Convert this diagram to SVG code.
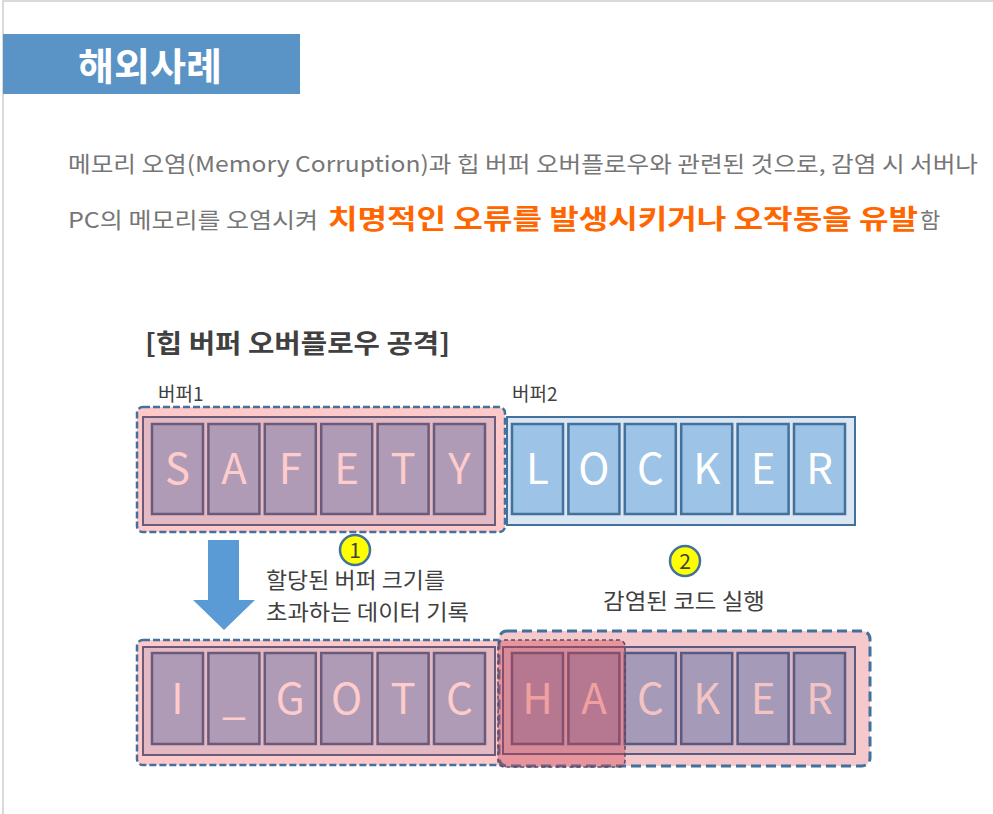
<svg xmlns="http://www.w3.org/2000/svg" width="993" height="814" viewBox="0 0 993 814">
<style>
  text { font-family: "Noto Sans CJK KR", "Noto Sans", sans-serif; }
  .para { font-size: 22px; fill: #767676; }
  .hl { font-size: 27px; font-weight: bold; fill: #ff6600; }
  .lbl { font-size: 21.5px; fill: #404040; }
  .small { font-size: 19px; fill: #404040; }
  .dash { stroke: #41719c; stroke-width: 2.5; stroke-dasharray: 7 3; }
  .inner { fill: #e3b9c3; stroke: #6b5b7b; stroke-width: 2; }
  .cellP { fill: #b09bb6; stroke: #6b5b7b; stroke-width: 2.5; }
  .cellB { fill: #9dc3e6; stroke: #41719c; stroke-width: 2.5; }
  .cellQ { fill: #a59bb8; stroke: #5a5a80; stroke-width: 2.5; }
  .let { font-size: 42px; text-anchor: middle; }
  .lp { fill: #ffcccc; }
  .lw { fill: #ffffff; }
  .lq { fill: #f4c4c4; }
  .num { font-size: 21px; fill: #404040; text-anchor: middle; }
  .circ { fill: #ffff00; stroke: #41719c; stroke-width: 2.5; }
</style>

<!-- frame -->
<path d="M3 814 V1 H993" fill="none" stroke="#d9d9d9" stroke-width="2"/>

<!-- header -->
<g id="header">
  <rect x="3" y="34" width="297" height="60" fill="#5a93c6"/>
  <text x="78" y="80" font-size="38" font-weight="bold" fill="#ffffff" textLength="144" lengthAdjust="spacingAndGlyphs">해외사례</text>
</g>

<!-- paragraph -->
<g id="paragraph">
  <text class="para" x="68" y="172" textLength="910" lengthAdjust="spacingAndGlyphs">메모리 오염(Memory Corruption)과 힙 버퍼 오버플로우와 관련된 것으로, 감염 시 서버나</text>
  <text class="para" x="68" y="228" textLength="250" lengthAdjust="spacingAndGlyphs">PC의 메모리를 오염시켜</text>
  <text class="hl" x="328" y="229" textLength="590" lengthAdjust="spacingAndGlyphs">치명적인 오류를 발생시키거나 오작동을 유발</text>
  <text class="para" x="920" y="228">함</text>
</g>

<g id="title">
  <text x="145" y="353" font-size="26" font-weight="bold" fill="#404040" textLength="305" lengthAdjust="spacingAndGlyphs">[힙 버퍼 오버플로우 공격]</text>
</g>

<!-- top buffer 1 -->
<g id="buffer1-top">
  <text class="small" x="158" y="401">버퍼1</text>
  <rect x="137" y="407" width="368" height="125" rx="6" fill="#ffc9c9" class="dash"/>
  <rect x="143" y="417" width="352" height="108" class="inner"/>
  <rect x="152" y="424" width="51" height="90" class="cellP"/>
  <rect x="208.4" y="424" width="51" height="90" class="cellP"/>
  <rect x="264.8" y="424" width="51" height="90" class="cellP"/>
  <rect x="321.2" y="424" width="51" height="90" class="cellP"/>
  <rect x="377.6" y="424" width="51" height="90" class="cellP"/>
  <rect x="434" y="424" width="51" height="90" class="cellP"/>
  <text class="let lp" x="177.5" y="484">S</text>
  <text class="let lp" x="233.9" y="484">A</text>
  <text class="let lp" x="290.3" y="484">F</text>
  <text class="let lp" x="346.7" y="484">E</text>
  <text class="let lp" x="403.1" y="484">T</text>
  <text class="let lp" x="459.5" y="484">Y</text>
</g>

<!-- top buffer 2 -->
<g id="buffer2-top">
  <text class="small" x="512" y="401">버퍼2</text>
  <rect x="507" y="417" width="348" height="108" fill="#dae6f2" stroke="#41719c" stroke-width="2"/>
  <rect x="512" y="424" width="51" height="90" class="cellB"/>
  <rect x="568.4" y="424" width="51" height="90" class="cellB"/>
  <rect x="624.8" y="424" width="51" height="90" class="cellB"/>
  <rect x="681.2" y="424" width="51" height="90" class="cellB"/>
  <rect x="737.6" y="424" width="51" height="90" class="cellB"/>
  <rect x="794" y="424" width="51" height="90" class="cellB"/>
  <text class="let lw" x="537.5" y="484">L</text>
  <text class="let lw" x="593.9" y="484">O</text>
  <text class="let lw" x="650.3" y="484">C</text>
  <text class="let lw" x="706.7" y="484">K</text>
  <text class="let lw" x="763.1" y="484">E</text>
  <text class="let lw" x="819.5" y="484">R</text>
</g>

<!-- connectors -->
<g id="connectors">
  <path d="M208 540 H239 V600 H255 L224 630 L193 600 H208 Z" fill="#5b9bd5"/>
</g>

<g id="step1">
  <circle cx="355" cy="550" r="15" class="circ"/>
  <text class="num" x="355" y="558">1</text>
  <text class="lbl" x="266" y="588" textLength="179" lengthAdjust="spacingAndGlyphs">할당된 버퍼 크기를</text>
  <text class="lbl" x="266" y="620" textLength="203" lengthAdjust="spacingAndGlyphs">초과하는 데이터 기록</text>
</g>

<g id="step2">
  <circle cx="685" cy="561" r="15" class="circ"/>
  <text class="num" x="685" y="569">2</text>
  <text class="lbl" x="603" y="609" textLength="162" lengthAdjust="spacingAndGlyphs">감염된 코드 실행</text>
</g>

<!-- bottom buffer 1 -->
<g id="buffer1-bottom">
  <rect x="137" y="640" width="368" height="125" rx="6" fill="#ffc9c9" class="dash"/>
  <rect x="143" y="647" width="352" height="108" class="inner"/>
  <rect x="152" y="653" width="51" height="91" class="cellP"/>
  <rect x="208.4" y="653" width="51" height="91" class="cellP"/>
  <rect x="264.8" y="653" width="51" height="91" class="cellP"/>
  <rect x="321.2" y="653" width="51" height="91" class="cellP"/>
  <rect x="377.6" y="653" width="51" height="91" class="cellP"/>
  <rect x="434" y="653" width="51" height="91" class="cellP"/>
  <text class="let lp" x="177.5" y="714">I</text>
  <text class="let lp" x="233.9" y="714">_</text>
  <text class="let lp" x="290.3" y="714">G</text>
  <text class="let lp" x="346.7" y="714">O</text>
  <text class="let lp" x="403.1" y="714">T</text>
  <text class="let lp" x="459.5" y="714">C</text>
</g>

<!-- bottom buffer 2 (infected) -->
<g id="buffer2-bottom">
  <rect x="499" y="631" width="371" height="135" rx="8" fill="#f5c8cc" stroke="#41719c" stroke-width="3" stroke-dasharray="10 5"/>
  <rect x="503" y="647" width="352" height="107" fill="#dbb8c4" stroke="#5a5a80" stroke-width="2"/>
  <rect x="512" y="653" width="51" height="91" class="cellQ"/>
  <rect x="568.4" y="653" width="51" height="91" class="cellQ"/>
  <rect x="624.8" y="653" width="51" height="91" class="cellQ"/>
  <rect x="681.2" y="653" width="51" height="91" class="cellQ"/>
  <rect x="737.6" y="653" width="51" height="91" class="cellQ"/>
  <rect x="794" y="653" width="51" height="91" class="cellQ"/>
  <text class="let lq" x="650.3" y="714">C</text>
  <text class="let lq" x="706.7" y="714">K</text>
  <text class="let lq" x="763.1" y="714">E</text>
  <text class="let lq" x="819.5" y="714">R</text>
</g>

<!-- overflow overlay -->
<g id="overflow">
  <rect x="498" y="640" width="127" height="127" rx="6" fill="#d04050" fill-opacity="0.38" stroke="#5a4a66" stroke-width="1.5" stroke-dasharray="4 3"/>
  <text class="let" x="537.5" y="714" fill="#f0a0a0">H</text>
  <text class="let" x="593.9" y="714" fill="#f0a0a0">A</text>
</g>
</svg>
